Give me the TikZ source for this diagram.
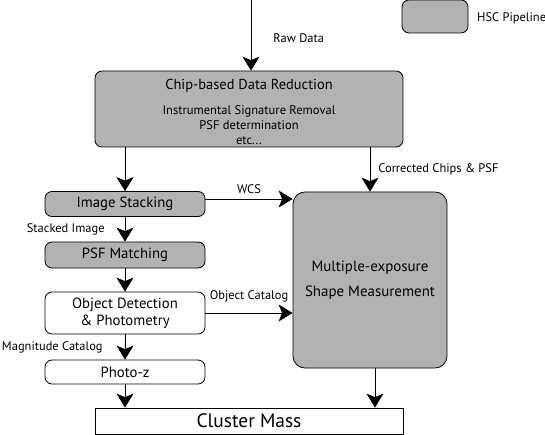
\documentclass[tikz,border=0pt]{standalone}
\usepackage{fontspec}
\setmainfont{PT Sans}
\usepackage{tikz}
\usetikzlibrary{arrows.meta, positioning, calc}

\tikzset{
    hsc/.style={draw, line width=0.8pt, rounded corners=7pt, fill=black!30},
    plain/.style={draw, line width=0.8pt, rounded corners=7pt, fill=white},
    flow/.style={line width=0.8pt, -{Stealth[length=14pt, width=17pt, inset=3.5pt]}},
    lbl/.style={font=\fontsize{12.5}{14}\selectfont, inner sep=1pt},
    boxtext/.style={font=\fontsize{14.8}{17}\selectfont}
}

\begin{document}
\begin{tikzpicture}[x=1bp, y=-1bp]
    \useasboundingbox (0, 0) rectangle (545, 435);

    % legend
    \node[hsc, minimum width=66bp, minimum height=33bp] (key) at (435, 16.5) {};
    \node[lbl, anchor=west] (keytext) at (476, 18) {HSC Pipeline};

    % boxes
    \coordinate (raw) at (251, 0);
    \node[hsc, minimum width=308bp, minimum height=76bp] (chip) at (249, 109) {};
    \node[font=\fontsize{14.5}{16}\selectfont] (chiptitle) at (249, 86) {Chip-based Data Reduction};
    \node[font=\fontsize{12.6}{15}\selectfont, align=center] (chipsteps) at (249, 125)
        {Instrumental Signature Removal\\PSF determination\\etc...};
    \node[hsc, boxtext, minimum width=160bp, minimum height=25bp] (stack) at (125, 204) {Image Stacking};
    \node[hsc, boxtext, minimum width=160bp, minimum height=26bp] (psf) at (125, 255) {PSF Matching};
    \node[plain, boxtext, minimum width=160bp, minimum height=42bp, align=center] (detect) at (125, 313)
        {Object Detection\\\& Photometry};
    \node[plain, boxtext, minimum width=160bp, minimum height=24bp] (photoz) at (125, 372) {Photo-z};
    \node[hsc, minimum width=154bp, minimum height=176bp, rounded corners=12pt, font=\fontsize{15}{25}\selectfont, align=center] (shape) at (370, 280)
        {Multiple-exposure\\Shape Measurement};
    \node[draw, line width=0.8pt, fill=white, minimum width=308bp, minimum height=26bp, font=\fontsize{19.5}{21}\selectfont] (mass) at (249, 421) {Cluster Mass};

    % connectors
    \draw[flow] (raw) -- node[lbl, anchor=west, xshift=21bp, yshift=-3bp] (rawlbl) {Raw Data} (raw |- chip.north);
    \draw[flow] (chip.south -| stack.north) -- (stack.north);
    \draw[flow] (chip.south -| shape.north) -- node[lbl, anchor=west, xshift=7bp] (chipslbl) {Corrected Chips \& PSF} (shape.north);
    \draw[flow] ($(stack.east)+(0,-5)$) -- node[lbl, above=4bp] (wcslbl) {WCS} ($(stack.east -| shape.west)+(0,-5)$);
    \draw[flow] (stack) -- node[lbl, anchor=east, xshift=-19bp] (stackedlbl) {Stacked Image} (psf);
    \draw[flow] (psf) -- (detect);
    \draw[flow] (detect.east) -- node[lbl, above=9bp] (objlbl) {Object Catalog} (detect.east -| shape.west);
    \draw[flow] (detect) -- node[lbl, anchor=east, xshift=-21bp] (maglbl) {Magnitude Catalog} (photoz);
    \draw[flow] (photoz) -- (photoz |- mass.north);
    \draw[flow] ($(shape.south)+(5,0)$) -- ($(mass.north -| shape.south)+(5,0)$);
\end{tikzpicture}
\end{document}
